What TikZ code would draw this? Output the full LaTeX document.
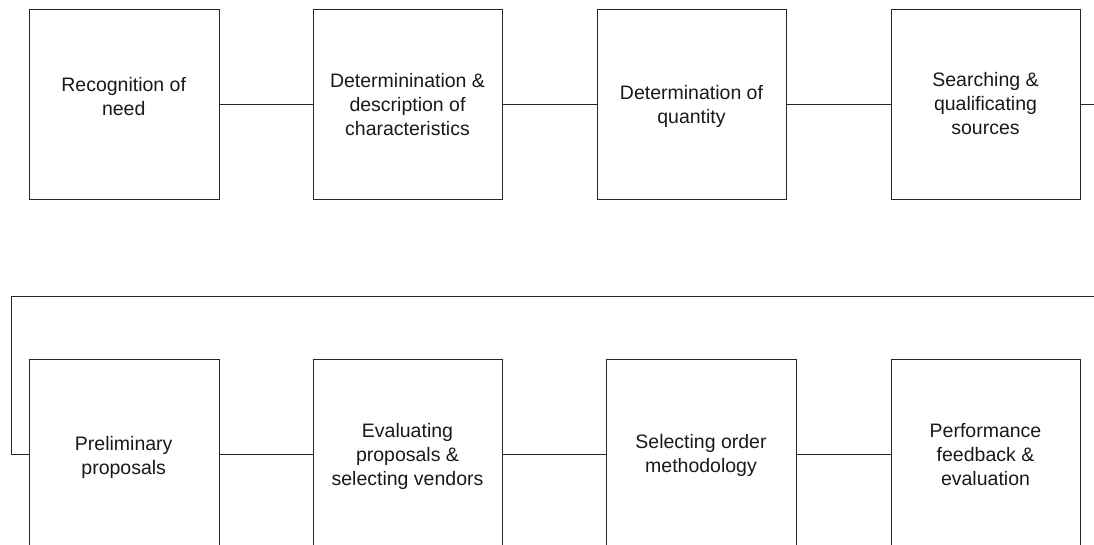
\documentclass[tikz,border=0pt]{standalone}
\usepackage{fontspec}
\setmainfont{Liberation Sans}
% strut that fixes the height of the first text line in each box
\newcommand\firstln{\rule{0pt}{15pt}}
\tikzset{
  box/.style={draw=black!85, line width=0.9pt, minimum width=189.6pt,
    minimum height=189.7pt, inner sep=0pt, anchor=north west},
  lbl/.style={align=center, inner sep=0pt, anchor=north,
    font=\fontsize{19.5}{24}\selectfont, text=black!90},
  link/.style={draw=black!85, line width=0.9pt},
}
\begin{document}
\begin{tikzpicture}[x=1pt, y=-1pt]
  \useasboundingbox (0,0) rectangle (1094,545);
  \clip (0,0) rectangle (1094,545);

  % upper row of process boxes
  \node[box] (b1) at (29,9.3) {};
  \node[box] (b2) at (312.7,9.3) {};
  \node[box] (b3) at (596.7,9.3) {};
  \node[box] (b4) at (890.7,9.3) {};
  % lower row of process boxes
  \node[box] (b5) at (29,359) {};
  \node[box] (b6) at (312.7,359) {};
  \node[box] (b7) at (606.3,359) {};
  \node[box] (b8) at (890.7,359) {};

  % box texts
  \node[lbl] (t1) at (123.7,76.3) {\firstln Recognition of\\need};
  \node[lbl] (t2) at (407.5,72.3) {\firstln Determinination \&\\description of\\characteristics};
  \node[lbl] (t3) at (691.5,84) {\firstln Determination of\\quantity};
  \node[lbl] (t4) at (985.5,71) {\firstln Searching \&\\qualificating\\sources};
  \node[lbl] (t5) at (123.7,435.7) {\firstln Preliminary\\proposals};
  \node[lbl] (t6) at (407.5,422.3) {\firstln Evaluating\\proposals \&\\selecting vendors};
  \node[lbl] (t7) at (701,433.3) {\firstln Selecting order\\methodology};
  \node[lbl] (t8) at (985.5,422.3) {\firstln Performance\\feedback \&\\evaluation};

  % connectors
  \coordinate (edge) at (1094,0);
  \coordinate (retR) at (1094,296.7);
  \coordinate (retL) at (11,296.7);
  \draw[link] (b1.east) -- (b2.west);
  \draw[link] (b2.east) -- (b3.west);
  \draw[link] (b3.east) -- (b4.west);
  \draw[link] (b4.east) -- (b4.east -| edge);
  \draw[link] (retR) -- (retL) |- (b5.west);
  \draw[link] (b5.east) -- (b6.west);
  \draw[link] (b6.east) -- (b7.west);
  \draw[link] (b7.east) -- (b8.west);
\end{tikzpicture}
\end{document}
